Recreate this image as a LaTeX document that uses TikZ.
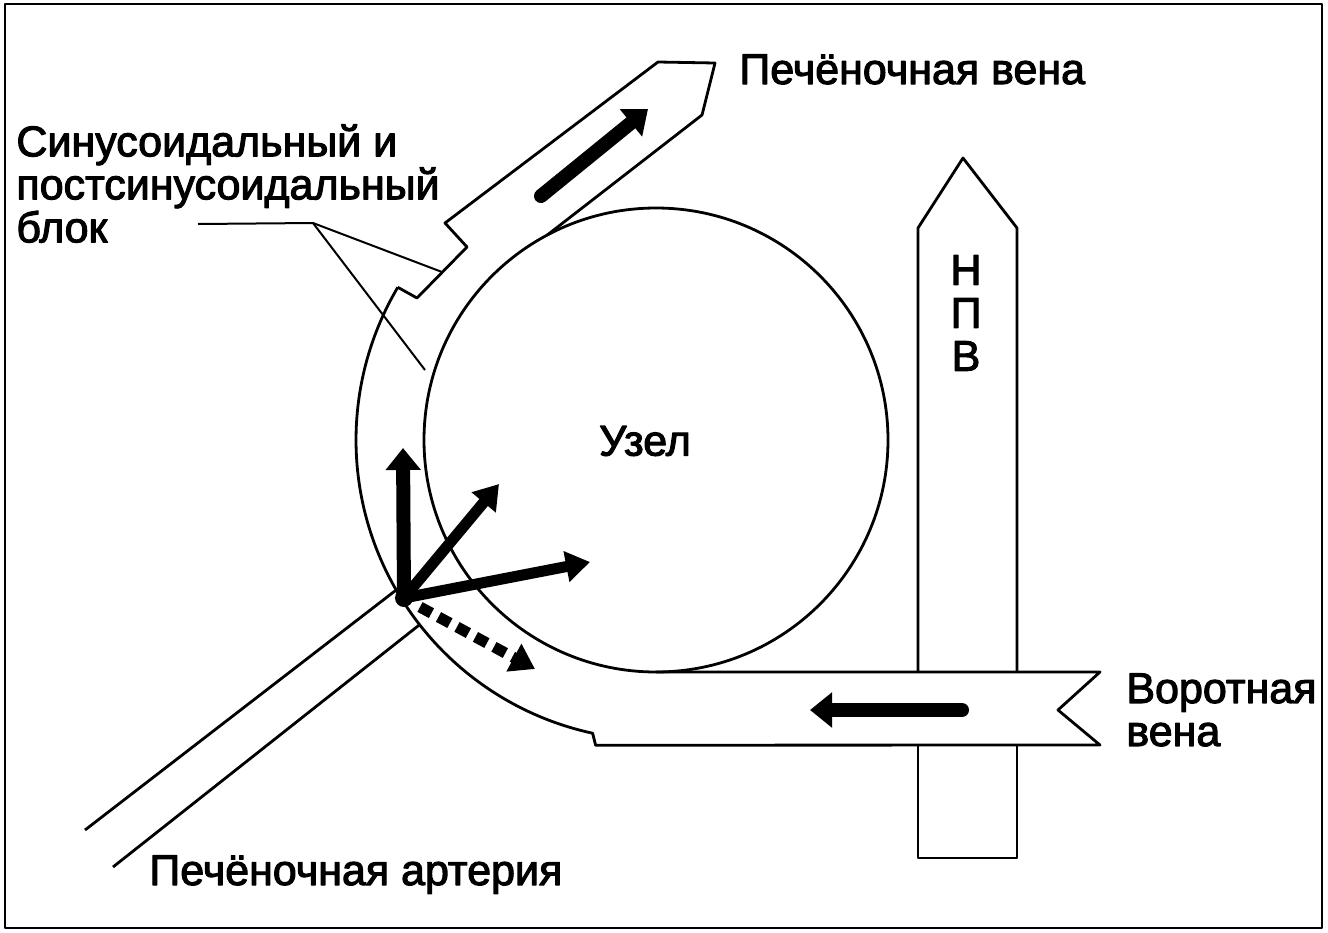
\documentclass[tikz,border=0pt]{standalone}
\usepackage{fontspec}
\setmainfont{Liberation Sans}[FakeBold=2.5]
\usetikzlibrary{arrows.meta,calc}
\begin{document}
\begin{tikzpicture}[x=1pt,y=-1pt,line width=2.8pt,line join=round,
		lbl/.style={inner sep=0pt,font=\fontsize{43}{43}\selectfont},
		flow/.style={line width=14pt,line cap=round,-{Triangle[length=22pt,width=34pt]}},
		thinflow/.style={line width=11pt,-{Triangle[length=24pt,width=30pt]}}]
	\useasboundingbox (0,0) rectangle (1328,932);
	\draw (5,4) rectangle (1322,928);
	% nodule and the sinusoid channel round it
	\coordinate (c) at (656,440);
	\draw (c) circle[radius=232];
	\draw ($(c)+(210.6:300)$) coordinate (sA) arc[start angle=210.6,end angle=102.2,radius=300] -- ++(3,12) -- (1100,745) -- (1058,710) -- (1100,672) -- (656,672);
	% hepatic vein with the block notch
	\draw (sA) -- (417,298) -- (467,247) -- (445,223) -- (658,62) -- (715,63) -- (702,115) -- ($(c)+(242:232)$);
	% inferior vena cava
	\draw (918,672) -- (918,228) -- (963,158) -- (1017,228) -- (1017,672);
	\draw (918,745) -- (918,858) -- (1017,858) -- (1017,745);
	% hepatic artery
	\draw (85,830) -- ($(c)+(150:300)$);
	\draw (113,867) -- ($(c)+(142:300)$);
	% labels
	\node[lbl,anchor=base west] (hv) at (738,84) {Печёночная вена};
	\node[lbl,anchor=north west,align=left] (blk) at (15,123) {Синусоидальный и\\постсинусоидальный\\блок};
	\node[lbl] (uz) at (645,441) {Узел};
	\node[lbl,align=center] (ivc) at (966,313) {Н\\П\\В};
	\node[lbl,anchor=north west,align=left] (pv) at (1125,672) {Воротная\\вена};
	\node[lbl,anchor=base west] (ha) at (148,885) {Печёночная артерия};
	\draw[line width=2pt] (198,224) -- (313,223) coordinate (lk) -- (442,272);
	\draw[line width=2pt] (lk) -- (425,370);
	% flow arrows
	\coordinate (p) at (404,598);
	\fill (p) circle[radius=9];
	\draw[flow] (p) -- (403,448);
	\draw[thinflow] (p) -- (499,484);
	\draw[thinflow] (p) -- (590,562);
	\draw[thinflow,dash pattern=on 13pt off 8pt] (420,607) -- (535,669);
	\draw[flow] (541,196) -- (648,109);
	\draw[flow] (962,710) -- (810,710);
\end{tikzpicture}
\end{document}
